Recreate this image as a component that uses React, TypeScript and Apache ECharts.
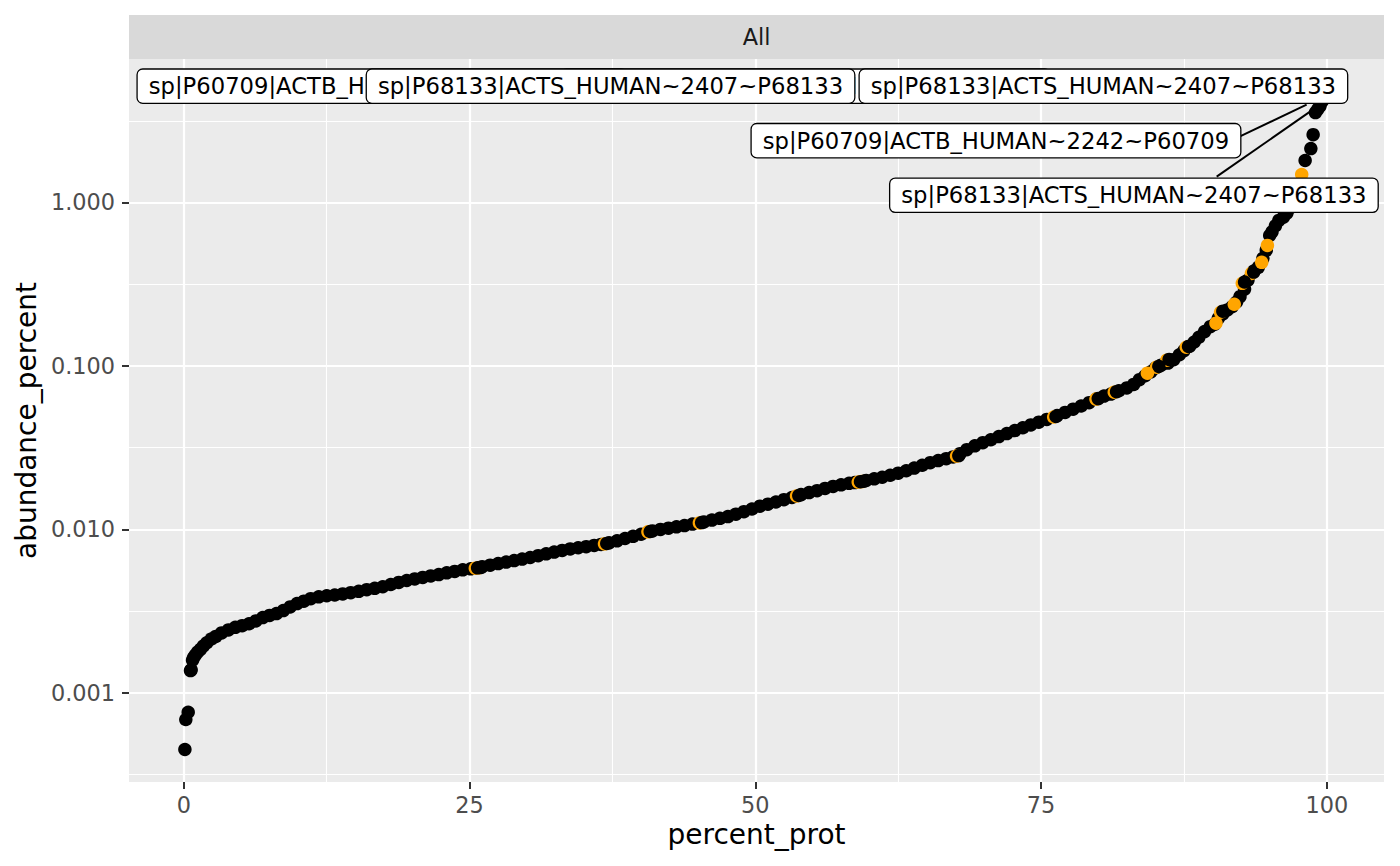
import React, { useEffect, useRef } from "react";
import * as echarts from "echarts";

// ---- data ----
const percentProt = [
  0.09, 0.17, 0.38, 0.58, 0.64, 0.76, 0.85, 1.0, 1.2, 1.45, 1.7, 2.0, 2.4, 2.8, 3.3, 3.9, 4.5, 5.1, 5.7, 6.3,
  6.9, 7.5, 8.1, 8.7, 9.3, 9.9, 10.5, 11.1, 11.8, 12.5, 13.2, 13.9, 14.6, 15.3, 16.0, 16.7, 17.4, 18.1, 18.8, 19.5,
  20.2, 20.9, 21.6, 22.3, 23.0, 23.7, 24.4, 25.1, 26.1, 26.8, 27.5, 28.2, 28.9, 29.6, 30.3, 31.0, 31.7, 32.4, 33.1, 33.8,
  34.5, 35.2, 35.9, 36.5, 37.2, 37.9, 38.6, 39.3, 40.0, 41.0, 41.7, 42.4, 43.1, 43.8, 44.5, 45.5, 46.2, 46.9, 47.6, 48.3,
  49.0, 49.7, 50.4, 51.1, 51.8, 52.5, 53.2, 54.0, 54.7, 55.4, 56.1, 56.8, 57.5, 58.2, 58.7, 59.7, 60.4, 61.1, 61.8, 62.5,
  63.2, 63.9, 64.6, 65.3, 66.0, 66.7, 67.3, 67.9, 68.5, 69.2, 69.9, 70.6, 71.3, 72.0, 72.7, 73.4, 74.1, 74.8, 75.5, 76.4,
  77.1, 77.8, 78.5, 79.2, 79.9, 80.5, 81.1, 81.8, 82.5, 83.1, 83.6, 84.1, 84.6, 85.0, 85.5, 86.1, 86.6, 87.1, 87.5, 88.0,
  88.4, 88.8, 89.3, 89.8, 90.2, 90.5, 90.9, 91.3, 91.7, 92.1, 92.4, 92.8, 93.1, 93.6, 94.0, 94.4, 94.7, 95.0, 95.2, 95.5,
  95.8, 96.2, 96.5, 96.8, 97.1, 97.4, 97.6, 98.1, 98.6, 98.8, 99.0, 99.2, 99.4, 99.6, 99.8, 99.9,
];
const abundancePercent = [
  0.000449, 0.000685, 0.000759, 0.001365, 0.00138, 0.00158, 0.00164, 0.0017, 0.00177, 0.00184, 0.00193, 0.00202, 0.00213, 0.00221, 0.00232, 0.00242, 0.00251, 0.00257, 0.00264, 0.00275,
  0.00288, 0.00297, 0.00305, 0.00318, 0.00335, 0.00351, 0.00363, 0.00376, 0.00386, 0.00392, 0.00396, 0.00402, 0.00409, 0.00417, 0.00427, 0.00435, 0.00445, 0.00459, 0.00473, 0.00486,
  0.00497, 0.00507, 0.00518, 0.00528, 0.00541, 0.00552, 0.00565, 0.00573, 0.0059, 0.00603, 0.00617, 0.0063, 0.00643, 0.00657, 0.00672, 0.00689, 0.00707, 0.00725, 0.00742, 0.00758,
  0.00771, 0.00783, 0.00796, 0.00808, 0.00826, 0.0085, 0.00878, 0.00905, 0.00932, 0.00977, 0.00998, 0.01016, 0.01035, 0.01054, 0.01076, 0.01108, 0.01138, 0.01167, 0.01196, 0.01237,
  0.01282, 0.0133, 0.01384, 0.01425, 0.01469, 0.01518, 0.01565, 0.0163, 0.01676, 0.01722, 0.01778, 0.01828, 0.01871, 0.0191, 0.0193, 0.0199, 0.02035, 0.02082, 0.0214, 0.02203,
  0.0228, 0.0237, 0.02464, 0.02557, 0.02633, 0.02705, 0.0277, 0.029, 0.0307, 0.0324, 0.0339, 0.0353, 0.0369, 0.0385, 0.0402, 0.0418, 0.0435, 0.0452, 0.047, 0.0496,
  0.0519, 0.0543, 0.0568, 0.0595, 0.063, 0.0653, 0.0672, 0.0704, 0.0733, 0.077, 0.0823, 0.087, 0.092, 0.097, 0.101, 0.104, 0.109, 0.117, 0.124, 0.132,
  0.14, 0.1496, 0.1622, 0.1738, 0.18, 0.195, 0.208, 0.22, 0.23, 0.246, 0.265, 0.295, 0.335, 0.38, 0.401, 0.455, 0.51, 0.628, 0.66, 0.72,
  0.776, 0.813, 0.86, 0.93, 1.02, 1.15, 1.3, 1.807, 2.138, 2.6, 3.548, 3.715, 3.89, 4.17, 4.47, 4.76,
];

// orange points that are mostly covered by a black neighbour just to their right
const orangeUnderProt = [25.5, 25.8, 36.8, 40.6, 45.1, 53.6, 59.0, 59.3, 67.6, 76.1, 79.8, 81.4, 85.1, 86.0, 87.7, 90.7, 92.6, 93.4];
const orangeUnderAbund = [0.00578, 0.00581, 0.00815, 0.00964, 0.01094, 0.016, 0.01945, 0.01959, 0.02805, 0.04864, 0.06266, 0.06902, 0.0982, 0.1084, 0.13, 0.2128, 0.3199, 0.3681];
// the black neighbours drawn over them
const coverProt = [25.7, 26.0, 37.0, 40.8, 45.3, 53.8, 59.2, 59.5, 67.8, 76.3, 80.0, 81.6, 85.3, 86.2, 87.9, 90.9, 92.8, 93.6];
const coverAbund = [0.00581, 0.00584, 0.00819, 0.00969, 0.01099, 0.01609, 0.01955, 0.01969, 0.02825, 0.049, 0.0631, 0.0695, 0.0992, 0.1095, 0.1315, 0.216, 0.326, 0.375];
// orange points fully visible
const orangeTopProt = [84.3, 90.3, 91.9, 94.3, 94.8, 97.8];
const orangeTopAbund = [0.0902, 0.1824, 0.2382, 0.4299, 0.5458, 1.483];

// axis breaks (abundance scale is log10)
const xBreaks = [0, 25, 50, 75, 100];
const xMinorBreaks = [12.5, 37.5, 62.5, 87.5];
const yBreaks = [0.001, 0.01, 0.1, 1];
const yMinorBreaks = [0.000316, 0.00316, 0.0316, 0.316, 3.16];
const yLimits = [0.000284, 7.55];
const xLimits = [-4.8, 105];

// repelled labels (centre position in data space), in drawing order
const labelTexts = [
  "sp|P60709|ACTB_HUMAN~2242~P60709",
  "sp|P60709|ACTB_HUMAN~2242~P60709",
  "sp|P68133|ACTS_HUMAN~2407~P68133",
  "sp|P68133|ACTS_HUMAN~2407~P68133",
  "sp|P60709|ACTB_HUMAN~2242~P60709",
  "sp|P68133|ACTS_HUMAN~2407~P68133",
];
const labelProt = [17.33, 54.4, 37.33, 80.45, 71.05, 83.12];
const labelAbund = [5.15, 5.15, 5.15, 5.15, 2.39, 1.108];

// leader segments
const segStartProt = [92.4, 90.36];
const segStartAbund = [2.538, 1.439];
const segEndProt = [98.23, 98.78];
const segEndAbund = [3.968, 3.698];

const FONT = "DejaVu Sans";
const lg = (v: number) => Math.log10(v);

export default function App() {
  const ref = useRef<HTMLDivElement>(null);

  useEffect(() => {
    if (!ref.current) return;
    const chart = echarts.init(ref.current, null, { renderer: "svg" });

    const blackData = percentProt.map((x, i) => [x, lg(abundancePercent[i])]);
    const underData = orangeUnderProt.map((x, i) => [x, lg(orangeUnderAbund[i])]);
    const coverData = coverProt.map((x, i) => [x, lg(coverAbund[i])]);
    const topData = orangeTopProt.map((x, i) => [x, lg(orangeTopAbund[i])]);

    const pointSeries = (name: string, z: number, color: string, data: number[][]) => ({
      type: "scatter",
      name,
      z,
      symbol: "circle",
      symbolSize: 13.5,
      itemStyle: { color, opacity: 1 },
      data,
      silent: true,
    });

    const segSeries = segStartProt.map((x, i) => ({
      type: "line",
      z: 7,
      silent: true,
      symbol: "none",
      data: [
        [x, lg(segStartAbund[i])],
        [segEndProt[i], lg(segEndAbund[i])],
      ],
      lineStyle: { color: "#000000", width: 2 },
    }));

    const labelSeries = labelTexts.map((t, i) => ({
      type: "scatter",
      name: "label" + i,
      z: 8 + i,
      symbolSize: 1,
      itemStyle: { color: "rgba(0,0,0,0)", opacity: 1 },
      silent: true,
      data: [{ name: t, value: [labelProt[i], lg(labelAbund[i])] }],
      label: {
        show: true,
        position: "inside",
        formatter: "{b}",
        fontFamily: FONT,
        fontSize: 22.7,
        lineHeight: 23,
        color: "#000000",
        opacity: 1,
        backgroundColor: "#FFFFFF",
        borderColor: "#000000",
        borderWidth: 1.3,
        borderRadius: 5,
        padding: [5, 11, 5, 11],
      },
      labelLayout: { hideOverlap: false },
    }));

    const option: any = {
      animation: false,
      backgroundColor: "#FFFFFF",
      textStyle: { fontFamily: FONT },
      grid: {
        left: 129,
        right: 16,
        top: 59,
        bottom: 84,
        show: true,
        backgroundColor: "#EBEBEB",
        borderWidth: 0,
        containLabel: false,
        outerBoundsMode: "none",
      },
      xAxis: {
        type: "value",
        min: xLimits[0],
        max: xLimits[1],
        name: "percent_prot",
        nameLocation: "middle",
        nameGap: 38,
        nameTextStyle: { fontSize: 28, color: "#000000", fontFamily: FONT },
        axisLine: { show: false, onZero: false },
        axisTick: { show: true, customValues: xBreaks, length: 7, lineStyle: { color: "#333333", width: 2 } },
        axisLabel: { customValues: xBreaks, fontSize: 22.4, color: "#4D4D4D", margin: 12, fontFamily: FONT },
        splitLine: { show: true, lineStyle: { color: "#FFFFFF", width: 2.2 } },
      },
      yAxis: {
        type: "value",
        min: lg(yLimits[0]),
        max: lg(yLimits[1]),
        name: "abundance_percent",
        nameLocation: "middle",
        nameRotate: 90,
        nameGap: 87,
        nameTextStyle: { fontSize: 28, color: "#000000", fontFamily: FONT },
        axisLine: { show: false, onZero: false },
        axisTick: { show: true, customValues: yBreaks.map(lg), length: 7, lineStyle: { color: "#333333", width: 2 } },
        axisLabel: {
          customValues: yBreaks.map(lg),
          fontSize: 22.4,
          color: "#4D4D4D",
          margin: 14,
          fontFamily: FONT,
          formatter: (v: number) => Math.pow(10, Math.round(v)).toFixed(3),
        },
        splitLine: { show: true, lineStyle: { color: "#FFFFFF", width: 2.2 } },
      },
      graphic: [
        {
          type: "rect",
          shape: { x: 129, y: 15, width: 1255, height: 44 },
          style: { fill: "#D9D9D9" },
          silent: true,
        },
        {
          type: "text",
          x: 756.5,
          y: 37,
          style: {
            text: "All",
            fill: "#1A1A1A",
            font: `22.4px "${FONT}"`,
            align: "center",
            verticalAlign: "middle",
          },
          silent: true,
        },
      ],
      series: [
        {
          type: "scatter",
          name: "minorGrid",
          z: 1,
          data: [],
          silent: true,
          markLine: {
            silent: true,
            z: 1,
            symbol: ["none", "none"],
            label: { show: false },
            lineStyle: { color: "#FFFFFF", width: 1.1, type: "solid" },
            data: [
              ...xMinorBreaks.map((v) => ({ xAxis: v })),
              ...yMinorBreaks.map((v) => ({ yAxis: lg(v) })),
            ],
          },
        },
        pointSeries("black", 2, "#000000", blackData),
        pointSeries("orangeUnder", 3, "#FFA500", underData),
        pointSeries("blackCover", 4, "#000000", coverData),
        pointSeries("orangeTop", 5, "#FFA500", topData),
        ...segSeries,
        ...labelSeries,
      ],
    };

    chart.setOption(option);
    return () => chart.dispose();
  }, []);

  return (
    <div
      ref={ref}
      style={{ position: "absolute", left: 0, top: 0, width: 1400, height: 866, background: "#FFFFFF" }}
    />
  );
}
